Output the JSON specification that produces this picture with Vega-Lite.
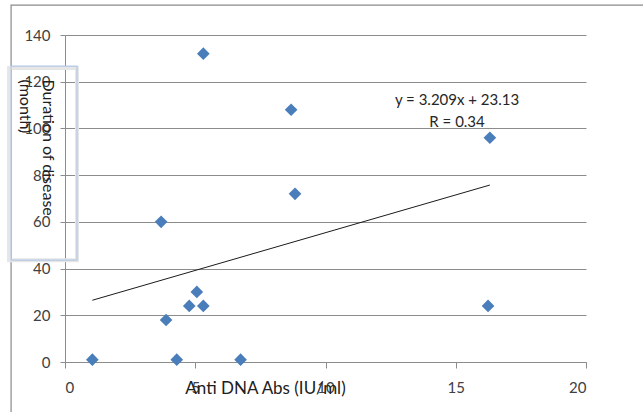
{
  "$schema": "https://vega.github.io/schema/vega-lite/v6.json",
  "autosize": {"type": "none"},
  "padding": {"left": 65, "top": 35, "right": 57, "bottom": 50},
  "width": 521,
  "height": 327,
  "background": "white",
  "config": {
    "view": {"stroke": null},
    "font": "Lato",
    "axis": {
      "labelFont": "Lato",
      "titleFont": "Lato",
      "labelColor": "#404040",
      "titleColor": "#202020",
      "domainColor": "#8c8c8c",
      "tickColor": "#8c8c8c",
      "gridColor": "#8c8c8c",
      "labelFontSize": 15,
      "titleFontSize": 16,
      "titleFontWeight": "normal"
    }
  },
  "datasets": {
    "points": [
      {"abs": 5.31, "duration": 132},
      {"abs": 8.68, "duration": 108},
      {"abs": 8.83, "duration": 72},
      {"abs": 3.69, "duration": 60},
      {"abs": 5.06, "duration": 30},
      {"abs": 4.77, "duration": 24},
      {"abs": 5.31, "duration": 24},
      {"abs": 3.88, "duration": 18},
      {"abs": 1.05, "duration": 1},
      {"abs": 4.29, "duration": 1},
      {"abs": 6.74, "duration": 1},
      {"abs": 16.31, "duration": 96},
      {"abs": 16.24, "duration": 24}
    ],
    "one": [{"label": "trend"}]
  },
  "layer": [
    {
      "data": {"name": "one"},
      "mark": {"type": "rect", "fill": null, "stroke": "#8a8a8a", "strokeWidth": 1.2, "clip": false},
      "encoding": {
        "x": {"datum": -2.07, "type": "quantitative"},
        "x2": {"datum": 40},
        "y": {"datum": 152.8, "type": "quantitative"},
        "y2": {"datum": -60}
      }
    },
    {
      "data": {"name": "points"},
      "mark": {
        "type": "point",
        "shape": "diamond",
        "filled": true,
        "size": 160,
        "color": "#4a7ebb",
        "opacity": 1
      },
      "encoding": {
        "x": {
          "field": "abs",
          "type": "quantitative",
          "scale": {"domain": [0, 20], "nice": false, "zero": true},
          "axis": {
            "title": "Anti DNA Abs  (IU/ml)",
            "values": [0, 5, 10, 15, 20],
            "grid": false,
            "tickSize": 6,
            "labelPadding": 12,
            "titleX": 200,
            "titleY": 26,
            "titleAlign": "center",
            "titleBaseline": "middle",
            "titleFontSize": 17
          }
        },
        "y": {
          "field": "duration",
          "type": "quantitative",
          "scale": {"domain": [0, 140], "nice": false},
          "axis": {
            "title": ["Duration of disease", "(month)"],
            "values": [0, 20, 40, 60, 80, 100, 120, 140],
            "grid": true,
            "tickSize": 5,
            "labelPadding": 10,
            "titleAngle": 90,
            "titleAlign": "left",
            "titleBaseline": "middle",
            "titleLineHeight": 23,
            "titleX": -18,
            "titleY": 44,
            "titleFontSize": 16
          }
        }
      }
    },
    {
      "data": {"name": "points"},
      "transform": [{"regression": "duration", "on": "abs"}],
      "mark": {"type": "line", "color": "#1a1a1a", "strokeWidth": 1},
      "encoding": {
        "x": {"field": "abs", "type": "quantitative"},
        "y": {"field": "duration", "type": "quantitative"}
      }
    },
    {
      "data": {"name": "one"},
      "mark": {
        "type": "text",
        "fontSize": 15,
        "color": "#262626",
        "align": "center",
        "baseline": "middle",
        "lineHeight": 22,
        "text": ["y = 3.209x + 23.13", "R = 0.34"]
      },
      "encoding": {
        "x": {"datum": 15.05, "type": "quantitative"},
        "y": {"datum": 112, "type": "quantitative"}
      }
    },
    {
      "data": {"name": "one"},
      "mark": {"type": "rect", "fill": null, "stroke": "#e6e6e6", "strokeWidth": 4, "xOffset": -2, "yOffset": 2, "clip": false},
      "encoding": {
        "x": {"datum": -2.07, "type": "quantitative"},
        "x2": {"datum": 0.46},
        "y": {"datum": 126.7, "type": "quantitative"},
        "y2": {"datum": 43.6}
      }
    },
    {
      "data": {"name": "one"},
      "mark": {"type": "rect", "fill": null, "stroke": "#b3c8e6", "strokeWidth": 1.2, "clip": false},
      "encoding": {
        "x": {"datum": -2.07, "type": "quantitative"},
        "x2": {"datum": 0.46},
        "y": {"datum": 126.7, "type": "quantitative"},
        "y2": {"datum": 43.6}
      }
    }
  ]
}
